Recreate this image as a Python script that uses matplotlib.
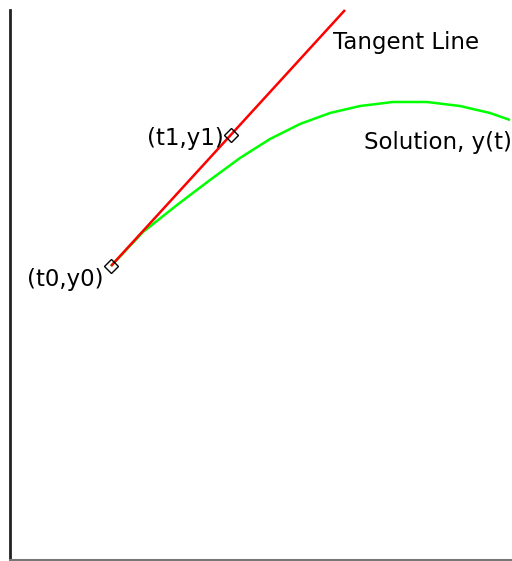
import matplotlib
matplotlib.use("Agg")
import matplotlib.pyplot as plt

# Solution curve y(t)
t_sol = [1.01, 1.33, 1.67, 2.00, 2.30, 2.60, 2.90, 3.20, 3.50, 3.83, 4.17, 4.50, 4.80, 5.00]
y_sol = [2.94, 3.28, 3.55, 3.80, 4.02, 4.21, 4.36, 4.47, 4.54, 4.58, 4.58, 4.54, 4.47, 4.40]

# Tangent line at (t0, y0)
t_tan = [1.01, 3.35]
y_tan = [2.94, 5.50]

# Points
t_pts = [1.01, 2.21]
y_pts = [2.94, 4.25]
pt_labels = ["(t0,y0)", "(t1,y1)"]

plt.rcParams['font.family'] = ['DejaVu Sans']

fig = plt.figure(figsize=(5.12, 5.61), dpi=100)
ax = fig.add_axes([10/512, 1/561, 502/512, 560/561])
ax.set_xlim(0, 5.02)
ax.set_ylim(0, 5.60)

ax.plot(t_sol, y_sol, color='#00ff00', lw=1.8, solid_capstyle='butt')
ax.plot(t_tan, y_tan, color='#ff0000', lw=1.8, solid_capstyle='butt')
ax.plot(t_pts, y_pts, linestyle='none', marker='D', markersize=7.5,
        markerfacecolor='none', markeredgecolor='black', markeredgewidth=1.0)

fs = 16.5
ax.text(0.17, 2.74, pt_labels[0], ha='left', va='baseline', fontsize=fs)
ax.text(1.37, 4.15, pt_labels[1], ha='left', va='baseline', fontsize=fs)
ax.text(3.23, 5.11, "Tangent Line", ha='left', va='baseline', fontsize=fs)
ax.text(3.54, 4.11, "Solution, y(t)", ha='left', va='baseline', fontsize=fs)

for s in ['top', 'right']:
    ax.spines[s].set_visible(False)
ax.spines['left'].set_bounds(0, 5.50)
ax.spines['left'].set_linewidth(2.0)
ax.spines['left'].set_color('#222222')
ax.spines['bottom'].set_linewidth(1.5)
ax.spines['bottom'].set_color('#777777')
ax.set_xticks([])
ax.set_yticks([])

fig.savefig("out.png", dpi=100)
